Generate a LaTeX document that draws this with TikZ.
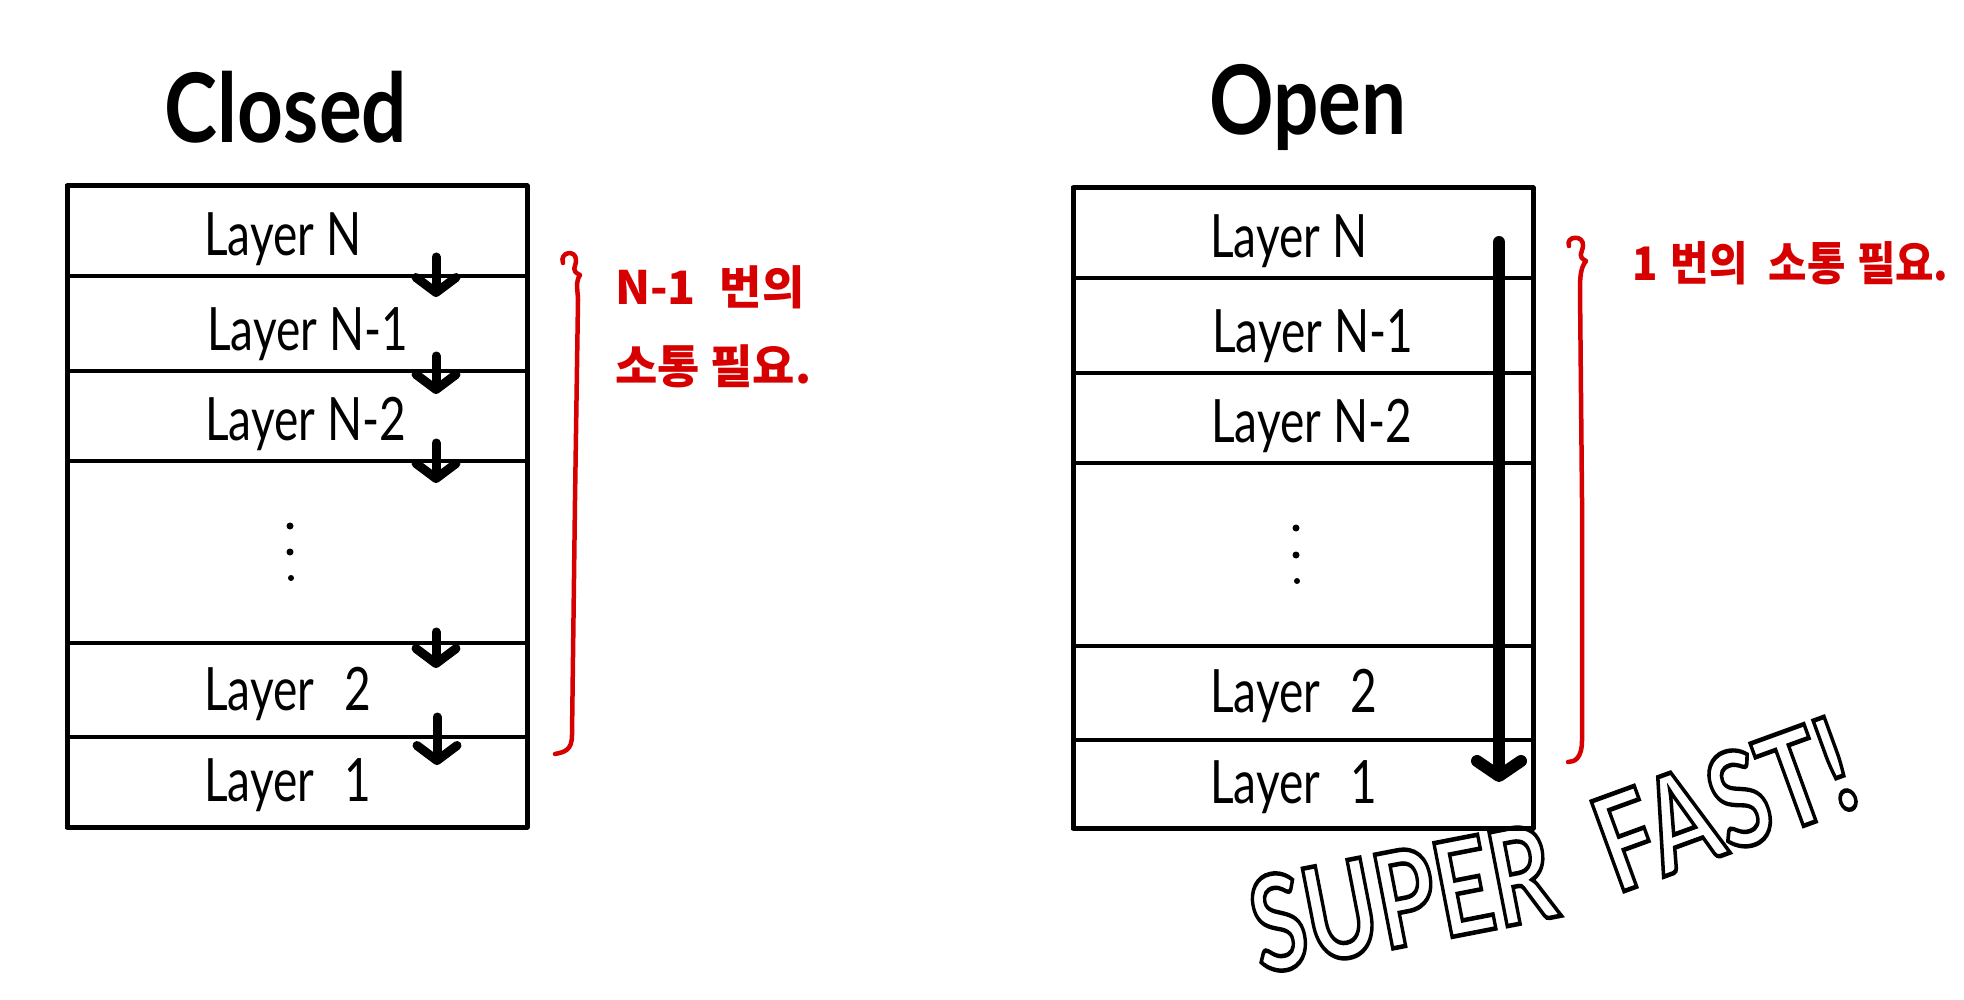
\documentclass[tikz,border=0pt]{standalone}
\usepackage{fontspec}
\setmainfont{Lato}
\newfontfamily\kr{Noto Sans CJK KR}
\usetikzlibrary{arrows.meta}
\definecolor{penred}{RGB}{214,0,0}
\newcommand{\hollow}[1]{\special{pdf:literal direct 1 Tr 4.5 w}#1\special{pdf:literal direct 0 Tr 1 w}}
\tikzset{
  rowbox/.style={draw, line width=3.5pt, minimum width=460pt, inner sep=0pt, outer sep=0pt},
  outerbox/.style={draw, line width=5pt, line join=round},
  lbl/.style={font=\fontsize{46}{50}\selectfont, anchor=base west, inner sep=0pt},
  ttl/.style={font=\fontsize{80}{90}\selectfont\bfseries, anchor=base, inner sep=0pt},
  rednote/.style={font=\kr\bfseries\fontsize{46}{52}\selectfont, text=penred, anchor=base west, inner sep=0pt},
  brace/.style={draw=penred, line width=4.5pt, line cap=round, line join=round},
  passarrow/.style={line width=9pt, line cap=round, -{Straight Barb[round, length=15pt, width=40pt]}},
  bigarrow/.style={line width=12pt, line cap=round, -{Straight Barb[round, length=15pt, width=44pt]}},
  fast/.style={font=\fontsize{132}{136}\selectfont\bfseries, inner sep=0pt}
}
\newcommand{\tall}[1]{\scalebox{1}[1.3]{#1}}
\begin{document}
\begin{tikzpicture}[x=1pt,y=-1pt]
\useasboundingbox (0,0) rectangle (1964,1000);

% ---------- Closed ----------
\node[ttl] (tclosed) at (286,143) {\scalebox{1}[1.2]{Closed}};
\node[rowbox, minimum height=90pt] (LA) at (297,231) {};
\node[rowbox, minimum height=95pt] (LB) at (297,323.5) {};
\node[rowbox, minimum height=90pt] (LC) at (297,416) {};
\node[rowbox, minimum height=182pt] (LD) at (297,552) {};
\node[rowbox, minimum height=94pt] (LE) at (297,690) {};
\node[rowbox, minimum height=90pt] (LF) at (297,782) {};
\draw[outerbox] (LA.north west) rectangle (LF.south east);

\node[lbl] (la) at (204,256) {\tall{Layer N}};
\node[lbl] (lb) at (207,350) {\tall{Layer N-1}};
\node[lbl] (lc) at (205,440) {\tall{Layer N-2}};
\node[lbl] (le) at (204,710) {\tall{Layer\hspace{30pt}2}};
\node[lbl] (lf) at (204,801) {\tall{Layer\hspace{30pt}1}};
\fill (290,526) circle (3.5pt) (290,552) circle (3.5pt) (291,578) circle (3pt);

\coordinate (a1s) at (436,257); \coordinate (a1e) at (436,297);
\coordinate (a2s) at (436,356); \coordinate (a2e) at (436,394);
\coordinate (a3s) at (436,443); \coordinate (a3e) at (436,483);
\coordinate (a4s) at (436,632); \coordinate (a4e) at (436,668);
\coordinate (a5s) at (437,717); \coordinate (a5e) at (437,765);
\draw[passarrow] (a1s) -- (a1e);
\draw[passarrow] (a2s) -- (a2e);
\draw[passarrow] (a3s) -- (a3e);
\draw[passarrow] (a4s) -- (a4e);
\draw[passarrow] (a5s) -- (a5e);

\draw[brace] (563,263) .. controls (559,252) and (576,249) .. (576,260)
  .. controls (576,268) and (570,270) .. (580,275)
  .. controls (575,282) and (578,292) .. (578,300)
  -- (575,500) -- (572,735)
  .. controls (572,750) and (565,752) .. (555,754);

\node[rednote] (n1) at (615,305) {N-1\hspace{24pt}번의};
\node[rednote] (n2) at (615,383) {소통 필요.};

% ---------- Open ----------
\node[ttl] (topen) at (1308,135) {\scalebox{1}[1.2]{Open}};
\node[rowbox, minimum height=90pt] (RA) at (1303,233) {};
\node[rowbox, minimum height=95pt] (RB) at (1303,325.5) {};
\node[rowbox, minimum height=90pt] (RC) at (1303,418) {};
\node[rowbox, minimum height=183pt] (RD) at (1303,554.5) {};
\node[rowbox, minimum height=94pt] (RE) at (1303,693) {};
\node[rowbox, minimum height=88pt] (RF) at (1303,784) {};
\draw[outerbox] (RA.north west) rectangle (RF.south east);

\node[lbl] (ra) at (1210,258) {\tall{Layer N}};
\node[lbl] (rb) at (1212,352) {\tall{Layer N-1}};
\node[lbl] (rc) at (1211,442) {\tall{Layer N-2}};
\node[lbl] (re) at (1210,712) {\tall{Layer\hspace{30pt}2}};
\node[lbl] (rf) at (1210,803) {\tall{Layer\hspace{30pt}1}};
\fill (1296,528) circle (3.5pt) (1296,555) circle (3.5pt) (1297,581) circle (3pt);

\coordinate (bs) at (1499,242); \coordinate (be) at (1499,782);
\draw[bigarrow] (bs) -- (be);

\draw[brace] (1569,246) .. controls (1565,236) and (1584,234) .. (1583,246)
  .. controls (1582,254) and (1577,256) .. (1586,261)
  .. controls (1580,268) and (1580,280) .. (1580,290)
  -- (1582,500) -- (1582,740)
  .. controls (1582,758) and (1575,762) .. (1568,762);

\node[rednote, font=\kr\bfseries\fontsize{44}{50}\selectfont] (n3) at (1632,280) {\scalebox{0.95}[1.05]{1\hspace{14pt}번의\hspace{22pt}소통\hspace{12pt}필요.}};

% ---------- SUPER FAST! ----------
\node[fast, rotate=11] (sf1) at (1402,898) {\scalebox{0.74}[1]{\hollow{SUPER}}};
\node[fast, rotate=20] (sf2) at (1724,804) {\scalebox{0.76}[1]{\hollow{FAST!}}};
\end{tikzpicture}
\end{document}
